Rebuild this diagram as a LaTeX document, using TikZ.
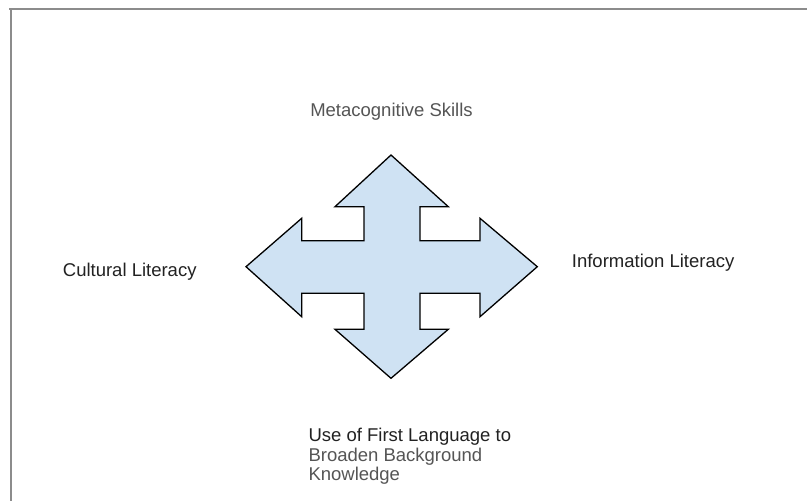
\documentclass[tikz,border=0pt]{standalone}
\usepackage{fontspec}
\setmainfont{Liberation Sans}
\definecolor{arrowfill}{HTML}{CFE2F3}
\definecolor{txtdark}{HTML}{222222}
\definecolor{txtgray}{HTML}{555555}
\definecolor{framegray}{HTML}{8C8C8C}
\begin{document}
\begin{tikzpicture}[x=1pt,y=-1pt,
  lbl/.style={font=\fontsize{18.5}{19.5}\selectfont, inner sep=0pt, text=txtdark},
  lblgray/.style={lbl, text=txtgray},
  frame/.style={draw=framegray, line width=1.6pt}]
\useasboundingbox (0,0) rectangle (807,501);
\fill[white] (0,0) rectangle (807,501);
% frame lines
\draw[frame] (9,9) -- (807,9);
\draw[frame] (11,9) -- (11,501);
% four-way arrow
\draw[fill=arrowfill, draw=black, line width=1.3pt, line join=miter]
  (391,155) -- (448.3,206.7) -- (420,206.7) -- (420,240.7) -- (480,240.7)
  -- (480,218.3) -- (537.3,266.7) -- (480,316.7) -- (480,293.3) -- (420,293.3)
  -- (420,329.3) -- (448.3,329.3) -- (391,378.3) -- (335,329.3) -- (364,329.3)
  -- (364,293.3) -- (301.7,293.3) -- (301.7,316.7) -- (246,266.7) -- (301.7,218.3)
  -- (301.7,240.7) -- (364,240.7) -- (364,206.7) -- (335,206.7) -- cycle;
% labels
\node[lblgray, anchor=base] (meta) at (391.5,116) {Metacognitive Skills};
\node[lbl, anchor=base west] (cult) at (62.7,276) {Cultural Literacy};
\node[lbl, anchor=base west] (info) at (571.7,267.3) {Information Literacy};
\node[lbl, anchor=base west] (use1) at (308.3,441.7) {Use of First Language to};
\node[lblgray, anchor=base west] (use2) at (308.3,461.2) {Broaden Background};
\node[lblgray, anchor=base west] (use3) at (308.3,480.7) {Knowledge};
\end{tikzpicture}
\end{document}
